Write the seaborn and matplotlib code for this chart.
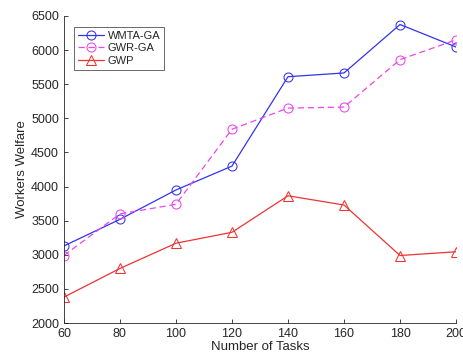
import matplotlib
matplotlib.use('Agg')
import matplotlib.pyplot as plt
import seaborn as sns

# data
tasks = [60, 80, 100, 120, 140, 160, 180, 200]
wmta_ga = [3130, 3520, 3950, 4300, 5610, 5665, 6375, 6045]
gwr_ga = [2990, 3600, 3740, 4840, 5150, 5165, 5860, 6150]
gwp = [2380, 2800, 3170, 3330, 3865, 3730, 2990, 3045]

sns.set_style('ticks')
plt.rcParams['font.family'] = ['Liberation Sans', 'DejaVu Sans']

fig = plt.figure(figsize=(4.63, 3.63), dpi=100)
ax = fig.add_axes([0.138, 0.110, 0.847, 0.846])

sns.lineplot(x=tasks, y=wmta_ga, ax=ax, color='#3333ee', marker='o', mfc='none',
             mec='#3333ee', ms=6.5, lw=0.9, label='WMTA-GA')
sns.lineplot(x=tasks, y=gwr_ga, ax=ax, color='#ee44ee', marker='o', mfc='none',
             mec='#ee44ee', ms=6.5, lw=0.9, dashes=(5, 3), label='GWR-GA')
sns.lineplot(x=tasks, y=gwp, ax=ax, color='#ee3333', marker='^', mfc='none',
             mec='#ee3333', ms=6.5, lw=0.9, label='GWP')

ax.set_xlim(60, 200)
ax.set_ylim(2000, 6500)
ax.set_xticks(range(60, 201, 20))
ax.set_yticks(range(2000, 6501, 500))
ax.tick_params(direction='in', labelsize=9, colors='#262626', length=3, width=0.6)
for s in ['left', 'bottom']:
    ax.spines[s].set_color('#262626')
    ax.spines[s].set_linewidth(0.6)
sns.despine(ax=ax)
ax.set_xlabel('Number of Tasks', fontsize=9.5, color='#262626', labelpad=1)
ax.set_ylabel('Workers Welfare', fontsize=9.5, color='#262626', labelpad=2)

leg = ax.legend(loc='upper left', bbox_to_anchor=(0.025, 0.965), fontsize=8,
                frameon=True, fancybox=False, edgecolor='#262626',
                borderpad=0.35, handlelength=2.4, labelspacing=0.25, handletextpad=0.3,
                borderaxespad=0)
leg.get_frame().set_linewidth(0.6)

plt.savefig('out.png', dpi=100)
